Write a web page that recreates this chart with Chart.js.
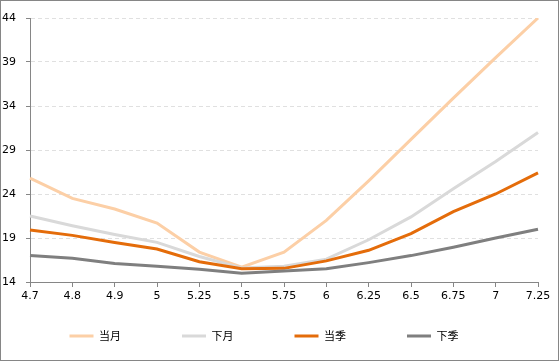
<!DOCTYPE html>
<html>
<head>
<meta charset="utf-8">
<script src="https://cdn.jsdelivr.net/npm/chart.js@4/dist/chart.umd.min.js"></script>
<style>
  html, body { margin: 0; padding: 0; background: #fff; }
  canvas { display: block; }
</style>
</head>
<body>
<canvas id="chart" width="559" height="361"></canvas>
<script>
const CATEGORIES = ['4.7', '4.8', '4.9', '5', '5.25', '5.5', '5.75', '6', '6.25', '6.5', '6.75', '7', '7.25'];
const SERIES_NAMES = ['当月', '下月', '当季', '下季'];
const THIS_MONTH = [25.8, 23.5, 22.3, 20.7, 17.4, 15.7, 17.4, 21.0, 25.5, 30.2, 34.9, 39.5, 44.0];
const NEXT_MONTH = [21.5, 20.4, 19.4, 18.5, 16.9, 15.6, 15.8, 16.6, 18.8, 21.4, 24.6, 27.7, 31.0];
const THIS_QUARTER = [19.9, 19.3, 18.5, 17.75, 16.3, 15.5, 15.55, 16.4, 17.6, 19.5, 22.0, 24.0, 26.4];
const NEXT_QUARTER = [17.0, 16.7, 16.1, 15.8, 15.45, 15.0, 15.25, 15.5, 16.2, 17.0, 17.95, 19.0, 20.0];
const Y_MIN = 14, Y_MAX = 44, Y_STEP = 5;

const COLORS = ['#fccfa6', '#d9d9d9', '#e46c0a', '#7f7f7f'];
const AXIS_GRAY = '#868686';
const LEGEND_PAD = 61;

const makeSet = (label, data, i) => ({
  label: label,
  data: data,
  borderColor: COLORS[i],
  backgroundColor: COLORS[i],
  borderWidth: 3,
  pointRadius: 0,
  tension: 0,
  order: SERIES_NAMES.length - i,
});

// keep the legend row low while spacing items widely
const legendPlacer = {
  id: 'legendPlacer',
  beforeLayout(chart) {
    const lg = chart.legend;
    if (lg && !lg.__wrapped) {
      const fit = lg.fit.bind(lg);
      lg.fit = function () { fit(); this.height = 44; };
      lg.__wrapped = true;
    }
  },
  afterLayout(chart) {
    const lg = chart.legend;
    lg.top = 330.5 - LEGEND_PAD;
    lg.left = -5;
    lg.right = 533;
  }
};

const frame = {
  id: 'frame',
  afterDraw(chart) {
    const ctx = chart.ctx;
    ctx.save();
    ctx.strokeStyle = AXIS_GRAY;
    ctx.lineWidth = 1;
    ctx.strokeRect(0.5, 0.5, chart.width - 1, chart.height - 1);
    ctx.restore();
  }
};

const tickFont = { family: 'DejaVu Sans', size: 11 };

new Chart(document.getElementById('chart'), {
  type: 'line',
  data: {
    labels: CATEGORIES,
    datasets: [
      makeSet(SERIES_NAMES[0], THIS_MONTH, 0),
      makeSet(SERIES_NAMES[1], NEXT_MONTH, 1),
      makeSet(SERIES_NAMES[2], THIS_QUARTER, 2),
      makeSet(SERIES_NAMES[3], NEXT_QUARTER, 3),
    ]
  },
  options: {
    responsive: false,
    animation: false,
    layout: { padding: { top: 18, right: 21, bottom: 0, left: 0 } },
    plugins: {
      tooltip: { enabled: false },
      legend: {
        position: 'bottom',
        labels: {
          boxWidth: 24,
          boxHeight: 3,
          padding: LEGEND_PAD,
          color: '#000',
          font: { family: 'Noto Sans CJK SC', size: 11 },
          sort: (a, b) => a.datasetIndex - b.datasetIndex,
          generateLabels: (chart) =>
            Chart.defaults.plugins.legend.labels.generateLabels(chart).map(item => {
              item.lineWidth = 0;
              return item;
            })
        }
      }
    },
    scales: {
      x: {
        afterFit: s => { s.height = 35; },
        border: { color: AXIS_GRAY, width: 1 },
        grid: {
          drawOnChartArea: false,
          drawTicks: true,
          tickLength: 5,
          tickColor: AXIS_GRAY,
        },
        ticks: { color: '#000', font: tickFont, padding: 3, maxRotation: 0, autoSkip: false }
      },
      y: {
        min: Y_MIN,
        max: Y_MAX,
        afterFit: s => { s.width = 30; },
        border: { color: AXIS_GRAY, width: 1, dash: [4, 3] },
        grid: {
          color: ctx => ctx.tick && ctx.tick.value === Y_MIN ? 'rgba(0,0,0,0)' : '#e0e0e0',
          tickLength: 4,
          tickColor: AXIS_GRAY,
          tickBorderDash: [],
        },
        ticks: { stepSize: Y_STEP, color: '#000', font: tickFont, padding: 10 }
      }
    }
  },
  plugins: [legendPlacer, frame]
});
</script>
</body>
</html>
